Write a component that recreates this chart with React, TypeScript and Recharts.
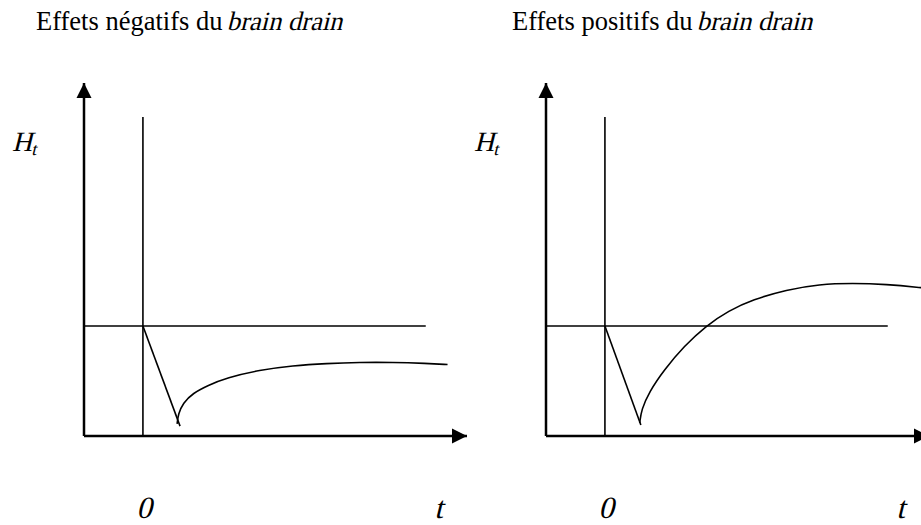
import React from 'react';
import { LineChart, Line, XAxis, YAxis, ReferenceLine, ReferenceDot } from 'recharts';

// time runs from the vertical axis (-1) to the arrow tip; 0 is the shock
const timeDomain: [number, number] = [-1, 5.5];
// H_t in arbitrary units, steady state = 100
const levelDomain: [number, number] = [0, 321];
const timeTicks = [0, 5];
const tickNames: Record<number, string> = { 0: '0', 5: 't' };

const steadyLevel = 100;
const steadyEnd = 4.8;
const shockLineTop = 290;

const negativeDip = [
  { t: 0, h: 100 },
  { t: 0.63, h: 9 },
];
const negativeRecovery = [
  { t: 0.58, h: 11 },
  { t: 0.6, h: 20 },
  { t: 0.68, h: 30 },
  { t: 0.85, h: 39 },
  { t: 1.1, h: 46 },
  { t: 1.42, h: 53 },
  { t: 1.98, h: 60 },
  { t: 2.54, h: 64 },
  { t: 3.12, h: 66 },
  { t: 3.68, h: 67 },
  { t: 4.24, h: 67 },
  { t: 4.81, h: 66 },
  { t: 5.17, h: 65 },
];

const positiveDip = [
  { t: 0, h: 100 },
  { t: 0.61, h: 10 },
];
const positiveRecovery = [
  { t: 0.59, h: 12 },
  { t: 0.62, h: 24 },
  { t: 0.75, h: 40 },
  { t: 1.0, h: 60 },
  { t: 1.35, h: 82 },
  { t: 1.71, h: 100 },
  { t: 2.1, h: 114 },
  { t: 2.51, h: 124 },
  { t: 3.08, h: 133 },
  { t: 3.64, h: 138 },
  { t: 4.2, h: 139 },
  { t: 4.78, h: 138 },
  { t: 5.36, h: 135 },
  { t: 5.5, h: 134 },
];

const serif = '"Liberation Serif", serif';
// no serif italic face is available, so slant the upright one
const slant = -14;

const ArrowUp = (p: any) => (
  <path d={`M${p.cx},${p.cy} L${p.cx - 7.5},${p.cy + 15} L${p.cx + 7.5},${p.cy + 15} Z`} fill="#000" />
);

const ArrowRight = (p: any) => (
  <path d={`M${p.cx},${p.cy} L${p.cx - 15},${p.cy - 7.5} L${p.cx - 15},${p.cy + 7.5} Z`} fill="#000" />
);

const TimeTick = (p: any) => (
  <text
    transform={`translate(${p.x + 1},${p.y + 82}) skewX(${slant})`}
    textAnchor="middle"
    fontFamily={serif}
    fontSize={31}
    fill="#000"
  >
    {tickNames[p.payload.value]}
  </text>
);

const LevelLabel = (p: any) => {
  const vb = p.viewBox || { x: 83, y: 83, width: 1 };
  return (
    <text
      transform={`translate(${vb.x - 71},${vb.y + 68}) skewX(${slant})`}
      fontFamily={serif}
      fontSize={28}
      fill="#000"
    >
      H
      <tspan fontSize={18} dy={4}>
        t
      </tspan>
    </text>
  );
};

function Panel({ dip, recovery }: { dip: { t: number; h: number }[]; recovery: { t: number; h: number }[] }) {
  return (
    <LineChart width={480} height={525} margin={{ top: 83, right: 13, bottom: 88, left: 83 }}>
      <XAxis
        type="number"
        dataKey="t"
        domain={timeDomain}
        ticks={timeTicks}
        interval={0}
        height={1}
        tickSize={0}
        tickMargin={0}
        tickLine={false}
        axisLine={{ stroke: '#000', strokeWidth: 2.5 }}
        tick={TimeTick}
      />
      <YAxis
        type="number"
        dataKey="h"
        domain={levelDomain}
        width={1}
        tick={false}
        tickLine={false}
        axisLine={{ stroke: '#000', strokeWidth: 2.5 }}
        label={{ content: LevelLabel }}
      />
      <ReferenceLine
        segment={[
          { x: timeDomain[0], y: steadyLevel },
          { x: steadyEnd, y: steadyLevel },
        ]}
        stroke="#000"
        strokeWidth={1.6}
        ifOverflow="visible"
      />
      <ReferenceLine
        segment={[
          { x: 0, y: 0 },
          { x: 0, y: shockLineTop },
        ]}
        stroke="#000"
        strokeWidth={1.6}
        ifOverflow="visible"
      />
      <Line
        data={dip}
        dataKey="h"
        type="linear"
        stroke="#000"
        strokeWidth={1.6}
        dot={false}
        activeDot={false}
        isAnimationActive={false}
      />
      <Line
        data={recovery}
        dataKey="h"
        type="basis"
        stroke="#000"
        strokeWidth={1.6}
        dot={false}
        activeDot={false}
        isAnimationActive={false}
      />
      <ReferenceDot x={timeDomain[0]} y={levelDomain[1]} shape={ArrowUp} ifOverflow="visible" />
      <ReferenceDot x={timeDomain[1]} y={levelDomain[0]} shape={ArrowRight} ifOverflow="visible" />
    </LineChart>
  );
}

const titleStyle: React.CSSProperties = {
  position: 'absolute',
  top: 8,
  fontFamily: serif,
  fontSize: 26.5,
  lineHeight: '26px',
  whiteSpace: 'nowrap',
  color: '#000',
};

const slanted: React.CSSProperties = {
  display: 'inline-block',
  transform: `skewX(${slant}deg)`,
};

export default function App() {
  return (
    <div
      style={{
        position: 'absolute',
        left: 0,
        top: 0,
        width: 921,
        height: 525,
        overflow: 'hidden',
        background: '#fff',
      }}
    >
      <div style={{ ...titleStyle, left: 36 }}>
        Effets négatifs du <span style={slanted}>brain drain</span>
      </div>
      <div style={{ ...titleStyle, left: 512 }}>
        Effets positifs du <span style={slanted}>brain drain</span>
      </div>
      <div style={{ position: 'absolute', left: 0, top: 0 }}>
        <Panel dip={negativeDip} recovery={negativeRecovery} />
      </div>
      <div style={{ position: 'absolute', left: 462, top: 0 }}>
        <Panel dip={positiveDip} recovery={positiveRecovery} />
      </div>
    </div>
  );
}
